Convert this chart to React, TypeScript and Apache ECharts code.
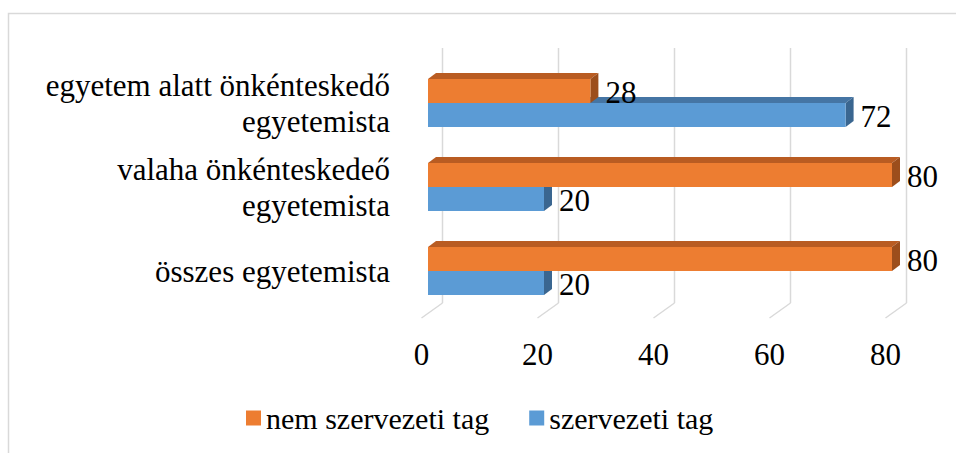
import React, { useEffect, useRef } from "react";
import * as echarts from "echarts";

const categories = [
  "összes egyetemista",
  "valaha önkénteskedeő\negyetemista",
  "egyetem alatt önkénteskedő\negyetemista",
];
const seriesNames = ["nem szervezeti tag", "szervezeti tag"];
const nemSzervezetiTag = [80, 80, 28];
const szervezetiTag = [20, 20, 72];
const tickValues = [0, 20, 40, 60, 80];

const FONT = "Liberation Serif";

const ORANGE = { front: "#ED7D31", top: "#B95C22", side: "#9C4E1C" };
const BLUE = { front: "#5B9BD5", top: "#4575A4", side: "#3A6690" };

function barRenderer(upper: boolean, c: { front: string; top: string; side: string }) {
  return (params: any, api: any) => {
    const cat = api.value(0);
    const val = api.value(1);
    const start = api.coord([0, cat]);
    const end = api.coord([val, cat]);
    const bh = 24;
    const yTop = upper ? start[1] - bh : start[1];
    const yBot = yTop + bh;
    const x0 = start[0];
    const x1 = end[0];
    const dx = 8;
    const dy = -6;
    return {
      type: "group",
      children: [
        {
          type: "polygon",
          shape: { points: [[x0, yTop], [x1, yTop], [x1 + dx, yTop + dy], [x0 + dx, yTop + dy]] },
          style: { fill: c.top },
        },
        {
          type: "polygon",
          shape: { points: [[x1, yTop], [x1 + dx, yTop + dy], [x1 + dx, yBot + dy], [x1, yBot]] },
          style: { fill: c.side },
        },
        {
          type: "rect",
          shape: { x: x0, y: yTop, width: x1 - x0, height: bh },
          style: { fill: c.front },
        },
        {
          type: "text",
          x: x1 + 15,
          y: (yTop + yBot) / 2 + 1,
          style: {
            text: String(val),
            fontFamily: FONT,
            fontSize: 31,
            fill: "#000",
            align: "left",
            verticalAlign: "middle",
          },
        },
      ],
    };
  };
}

function gridRenderer(params: any, api: any) {
  const cs = params.coordSys;
  const x = api.coord([api.value(0), 0])[0] + 14.5;
  const top = cs.y - 13;
  const bottom = cs.y + cs.height - 10;
  return {
    type: "group",
    children: [
      { type: "line", shape: { x1: x, y1: top, x2: x, y2: bottom }, style: { stroke: "#d9d9d9", lineWidth: 1.5 } },
      { type: "line", shape: { x1: x, y1: bottom, x2: x - 21, y2: bottom + 15 }, style: { stroke: "#d9d9d9", lineWidth: 1.5 } },
    ],
  };
}

export default function App() {
  const ref = useRef<HTMLDivElement>(null);
  useEffect(() => {
    document.body.style.margin = "0";
    const chart = echarts.init(ref.current!, null, { renderer: "svg" });
    chart.setOption({
      animation: false,
      backgroundColor: "#fff",
      graphic: [
        {
          type: "rect",
          z: -10,
          shape: { x: 8.5, y: 13.5, width: 1000, height: 500 },
          style: { fill: "none", stroke: "#d9d9d9", lineWidth: 1.5 },
        },
      ],
      legend: {
        data: seriesNames,
        left: 241,
        top: 398,
        icon: "rect",
        itemWidth: 15,
        itemHeight: 15,
        itemGap: 40,
        textStyle: { fontFamily: FONT, fontSize: 30, color: "#000" },
      },
      grid: {
        left: 428,
        top: 61,
        width: 464,
        height: 252,
        containLabel: false,
        outerBoundsMode: "none",
      },
      xAxis: {
        type: "value",
        min: 0,
        max: 80,
        interval: 20,
        axisLine: { show: false },
        axisTick: { show: false },
        splitLine: { show: false },
        axisLabel: {
          fontFamily: FONT,
          fontSize: 31,
          color: "#000",
          margin: 26,
          padding: [0, 13, 0, 0],
        },
      },
      yAxis: {
        type: "category",
        data: categories,
        axisLine: { show: false },
        axisTick: { show: false },
        splitLine: { show: false },
        axisLabel: {
          interval: 0,
          hideOverlap: false,
          fontFamily: FONT,
          fontSize: 31,
          lineHeight: 36,
          color: "#000",
          margin: 38,
          align: "right",
          padding: [14, 0, 0, 0],
        },
      },
      series: [
        {
          type: "custom",
          name: "grid",
          silent: true,
          z: 1,
          renderItem: gridRenderer,
          encode: { x: 0, y: 1 },
          data: tickValues.map((v) => [v, 0]),
        },
        {
          type: "custom",
          name: seriesNames[1],
          z: 2,
          itemStyle: { color: BLUE.front },
          renderItem: barRenderer(false, BLUE),
          encode: { x: 1, y: 0 },
          data: categories.map((_, i) => [i, szervezetiTag[i]]),
        },
        {
          type: "custom",
          name: seriesNames[0],
          z: 3,
          itemStyle: { color: ORANGE.front },
          renderItem: barRenderer(true, ORANGE),
          encode: { x: 1, y: 0 },
          data: categories.map((_, i) => [i, nemSzervezetiTag[i]]),
        },
      ],
    });
    return () => chart.dispose();
  }, []);
  return <div ref={ref} style={{ width: 956, height: 453 }} />;
}
